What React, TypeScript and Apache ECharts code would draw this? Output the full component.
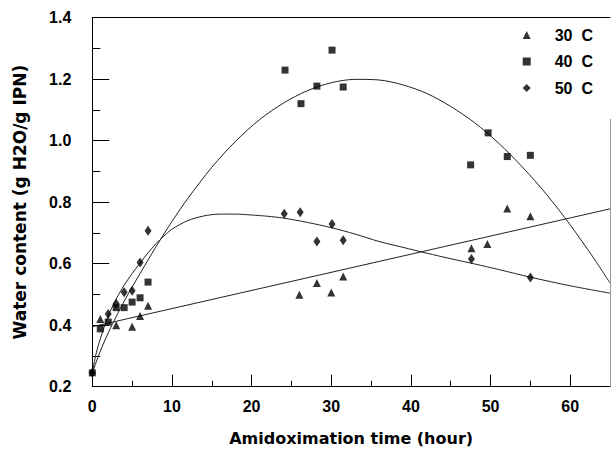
import React, { useEffect, useRef } from "react";
import * as echarts from "echarts";

// Measured water content, 30 C (triangles)
const hours30 = [1, 3, 5, 6, 7, 26, 28.2, 30, 31.5, 47.6, 49.6, 52.1, 55];
const water30 = [0.42, 0.4, 0.395, 0.43, 0.463, 0.499, 0.537, 0.506, 0.558, 0.65, 0.664, 0.779, 0.754];

// Measured water content, 40 C (squares)
const hours40 = [0, 1, 2, 3, 4, 5, 6, 7, 24.2, 26.2, 28.2, 30.1, 31.5, 47.5, 49.7, 52.1, 55];
const water40 = [0.245, 0.388, 0.41, 0.457, 0.457, 0.475, 0.489, 0.54, 1.229, 1.12, 1.177, 1.294, 1.174, 0.921, 1.025, 0.948, 0.952];

// Measured water content, 50 C (diamonds)
const hours50 = [0, 2, 3, 4, 5, 6, 7, 24.1, 26.1, 28.2, 30.1, 31.5, 47.6, 55];
const water50 = [0.245, 0.436, 0.47, 0.507, 0.512, 0.604, 0.707, 0.762, 0.767, 0.672, 0.729, 0.676, 0.615, 0.555];

// Fitted trend lines
const fitHours30 = [0, 65];
const fitWater30 = [0.395, 0.778];

const fitHours40 = [0, 1, 2, 3, 4, 5, 6, 7, 8, 10, 12, 15, 18, 21, 24, 27, 30, 33, 36, 39, 42, 45, 48, 51, 54, 57, 60, 63, 65];
const fitWater40 = [0.245, 0.315, 0.375, 0.428, 0.478, 0.524, 0.568, 0.612, 0.655, 0.737, 0.812, 0.913, 0.998, 1.068, 1.122, 1.162, 1.188, 1.199, 1.197, 1.181, 1.153, 1.111, 1.058, 0.992, 0.914, 0.826, 0.726, 0.616, 0.537];

const fitHours50 = [0, 0.5, 1, 2, 3, 4, 5, 6, 7, 8, 9, 10, 12, 14, 16, 18, 20, 22, 24, 27, 30, 33, 36, 39, 42, 45, 48, 51, 55, 60, 65];
const fitWater50 = [0.245, 0.31, 0.355, 0.43, 0.485, 0.53, 0.568, 0.602, 0.635, 0.665, 0.69, 0.712, 0.74, 0.755, 0.761, 0.761, 0.758, 0.754, 0.748, 0.734, 0.717, 0.696, 0.672, 0.653, 0.634, 0.616, 0.599, 0.581, 0.556, 0.528, 0.504];

const seriesNames = ["30  C", "40  C", "50  C"];

const pairs = (xs: number[], ys: number[]) => xs.map((x, i) => [x, ys[i]]);

const TEXT = "#000";
const LABEL_FONT = "Liberation Sans";
const TITLE_FONT = "DejaVu Sans";

export default function App() {
  const ref = useRef<HTMLDivElement>(null);

  useEffect(() => {
    if (!ref.current) return;
    const chart = echarts.init(ref.current, undefined, { renderer: "svg" });

    const fitLine = (xs: number[], ys: number[]) => ({
      type: "line",
      data: pairs(xs, ys),
      smooth: 0.3,
      showSymbol: false,
      silent: true,
      lineStyle: { color: "#222", width: 1 },
      z: 2,
    });

    const bareX = { type: "value", min: 0, max: 65, splitLine: { show: false } };

    chart.setOption({
      animation: false,
      backgroundColor: "#fff",
      grid: { left: 92.3, top: 17.5, right: 0.7, height: 369.2, containLabel: false },
      legend: {
        orient: "vertical",
        left: 522.7,
        top: 27,
        padding: 0,
        itemWidth: 8,
        itemHeight: 8,
        itemGap: 10.5,
        data: seriesNames,
        textStyle: {
          color: TEXT,
          fontFamily: LABEL_FONT,
          fontWeight: "bold",
          fontSize: 16,
          lineHeight: 16,
          padding: [0, 0, 0, 19],
        },
      },
      xAxis: [
        {
          ...bareX,
          position: "bottom",
          interval: 10,
          name: "Amidoximation time (hour)",
          nameLocation: "middle",
          nameGap: 44,
          nameTextStyle: { color: TEXT, fontFamily: TITLE_FONT, fontWeight: "bold", fontSize: 16 },
          axisLine: { onZero: false, lineStyle: { color: "#000", width: 1 } },
          axisTick: { inside: true, length: 12, lineStyle: { color: "#000" } },
          axisLabel: {
            color: TEXT,
            fontFamily: LABEL_FONT,
            fontWeight: "bold",
            fontSize: 16,
            margin: 12,
            formatter: (v: number) => (v % 10 === 0 ? String(v) : ""),
          },
        },
        {
          // half-decade ticks on the time axis
          ...bareX,
          position: "bottom",
          interval: 5,
          axisLine: { show: false, onZero: false },
          axisTick: { inside: true, length: 6, lineStyle: { color: "#000" } },
          axisLabel: { show: false },
        },
        {
          // frame along the top
          ...bareX,
          position: "top",
          axisLine: { show: true, onZero: false, lineStyle: { color: "#000", width: 1 } },
          axisTick: { show: false },
          axisLabel: { show: false },
        },
      ],
      yAxis: {
        type: "value",
        min: 0.2,
        max: 1.4,
        interval: 0.2,
        name: "Water content (g H2O/g IPN)",
        nameLocation: "middle",
        nameGap: 64,
        nameTextStyle: { color: TEXT, fontFamily: TITLE_FONT, fontWeight: "bold", fontSize: 17 },
        axisLine: { show: true, lineStyle: { color: "#000", width: 1 } },
        axisTick: { inside: true, length: 17, lineStyle: { color: "#000" } },
        minorTick: { show: true, splitNumber: 2, length: 8, lineStyle: { color: "#000" } },
        splitLine: { show: false },
        axisLabel: {
          color: TEXT,
          fontFamily: LABEL_FONT,
          fontWeight: "bold",
          fontSize: 16,
          margin: 21,
          formatter: (v: number) => v.toFixed(1),
        },
      },
      series: [
        {
          ...fitLine(fitHours30, fitWater30),
          smooth: false,
          markLine: {
            silent: true,
            symbol: "none",
            label: { show: false },
            lineStyle: { color: "#999", width: 1, type: "solid" },
            data: [[{ coord: [65, 1.07] }, { coord: [65, 0.2] }]],
          },
        },
        fitLine(fitHours40, fitWater40),
        fitLine(fitHours50, fitWater50),
        {
          name: seriesNames[0],
          type: "scatter",
          symbol: "triangle",
          symbolSize: 8,
          itemStyle: { color: "#000" },
          data: pairs(hours30, water30),
          z: 5,
        },
        {
          name: seriesNames[1],
          type: "scatter",
          symbol: "rect",
          symbolSize: 7,
          itemStyle: { color: "#000" },
          data: pairs(hours40, water40),
          z: 5,
        },
        {
          name: seriesNames[2],
          type: "scatter",
          symbol: "diamond",
          symbolSize: [7, 10],
          itemStyle: { color: "#000" },
          data: pairs(hours50, water50),
          z: 5,
        },
      ],
    });

    return () => chart.dispose();
  }, []);

  return (
    <div
      ref={ref}
      style={{ position: "fixed", left: 0, top: 0, width: 613, height: 454, background: "#fff" }}
    />
  );
}
